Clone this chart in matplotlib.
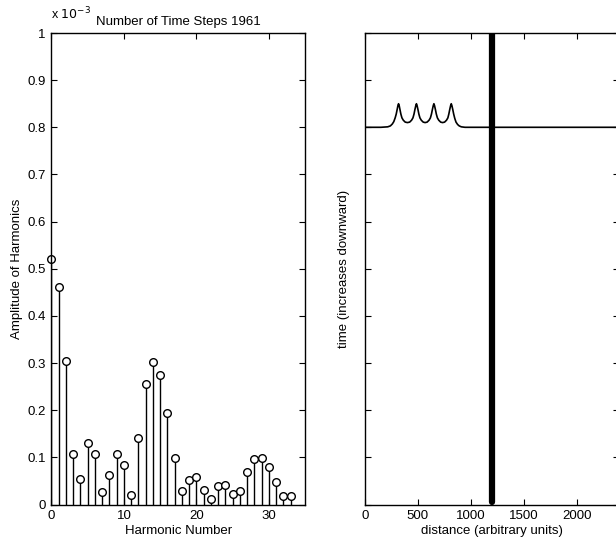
import numpy as np
import matplotlib.pyplot as plt
from matplotlib.ticker import FuncFormatter

# harmonic spectrum (amplitudes in units of 1e-3)
harmonics = list(range(34))
amplitudes = [0.520, 0.462, 0.304, 0.108, 0.055, 0.130, 0.108, 0.026, 0.062, 0.107,
              0.084, 0.021, 0.142, 0.255, 0.303, 0.274, 0.194, 0.098, 0.029, 0.053,
              0.058, 0.031, 0.011, 0.039, 0.042, 0.022, 0.029, 0.069, 0.097, 0.099,
              0.080, 0.048, 0.019, 0.018]

# wave profile at the current time (height in time-tick units)
wave_dist = [0, 150, 215, 240, 258, 272, 285, 295, 304, 311, 317, 323, 330, 339, 349, 362,
             380, 401, 422, 440, 453, 463, 472, 480, 486, 492, 500, 509, 519, 532,
             550, 568, 587, 605, 618, 628, 637, 645, 651, 657, 665, 674, 684, 697,
             715, 733, 752, 770, 783, 792, 801, 809, 815, 821, 829, 838, 848, 860,
             875, 890, 910, 945, 1200, 2400]
wave_height = [0.0, 0.0, 0.01, 0.03, 0.07, 0.12, 0.20, 0.28, 0.38, 0.46, 0.50, 0.46, 0.38, 0.28, 0.20, 0.15,
               0.11, 0.10, 0.11, 0.15, 0.20, 0.28, 0.38, 0.46, 0.50, 0.46, 0.38, 0.28, 0.20, 0.15,
               0.11, 0.10, 0.11, 0.15, 0.20, 0.28, 0.38, 0.46, 0.50, 0.46, 0.38, 0.28, 0.20, 0.15,
               0.11, 0.10, 0.11, 0.15, 0.20, 0.28, 0.38, 0.46, 0.50, 0.46, 0.38, 0.28, 0.19, 0.11,
               0.06, 0.03, 0.01, 0.0, 0.0, 0.0]
current_time = 2.0      # time of the profile (top of axis is 0, increases downward)
wall_position = 1200    # thick vertical bar
steps = 1961

plt.rcParams["font.family"] = ["Liberation Sans", "DejaVu Sans"]
plt.rcParams["font.size"] = 9.5

fig = plt.figure(figsize=(6.16, 5.39), dpi=100)

W, H = 616, 539
def box(l, t, r, b):
    return [l / W, (H - b) / H, (r - l) / W, (b - t) / H]

# ---- left: spectrum ----
ax1 = fig.add_axes(box(51.5, 33, 305, 504.5))
markerline, stemlines, baseline = ax1.stem(harmonics, amplitudes, linefmt='k-', basefmt=' ')
stemlines.set_linewidth(1.0)
markerline.set_marker('o')
markerline.set_markersize(5.5)
markerline.set_markerfacecolor('white')
markerline.set_markeredgecolor('black')
markerline.set_markeredgewidth(1.0)
markerline.set_clip_on(False)
ax1.set_xlim(0, 35)
ax1.set_ylim(0, 1)
ax1.set_xticks([0, 10, 20, 30])
ax1.set_yticks(np.arange(0, 1.01, 0.1))
ax1.yaxis.set_major_formatter(FuncFormatter(lambda v, p: f'{v:g}'))
ax1.set_xlabel('Harmonic Number', labelpad=2)
ax1.set_ylabel('Amplitude of Harmonics', labelpad=3)
ax1.text(0.0, 1.022, r'x $10^{-3}$', transform=ax1.transAxes, ha='left', va='bottom',
         fontsize=9)
ax1.set_title(f'Number of Time Steps {steps}', fontsize=9.5, pad=6)

# ---- right: wave profile ----
ax2 = fig.add_axes(box(365, 33, 619, 504.5))
ax2.plot(wave_dist, [current_time - h for h in wave_height], color='black', lw=1.2)
ax2.plot([wall_position, wall_position], [0, 9.94], color='black', lw=4.5,
         solid_capstyle='round')
ax2.set_xlim(0, 2400)
ax2.set_ylim(10, 0)
ax2.set_xticks([0, 500, 1000, 1500, 2000])
ax2.set_yticks(range(11))
ax2.set_yticklabels([])
ax2.set_xlabel('distance (arbitrary units)', labelpad=2)
ax2.set_ylabel('time (increases downward)', labelpad=7)

for ax in (ax1, ax2):
    ax.tick_params(direction='in', top=True, right=True, length=4, width=0.8, pad=4)
    for s in ax.spines.values():
        s.set_linewidth(1.0)

fig.savefig('out.png', dpi=100)
